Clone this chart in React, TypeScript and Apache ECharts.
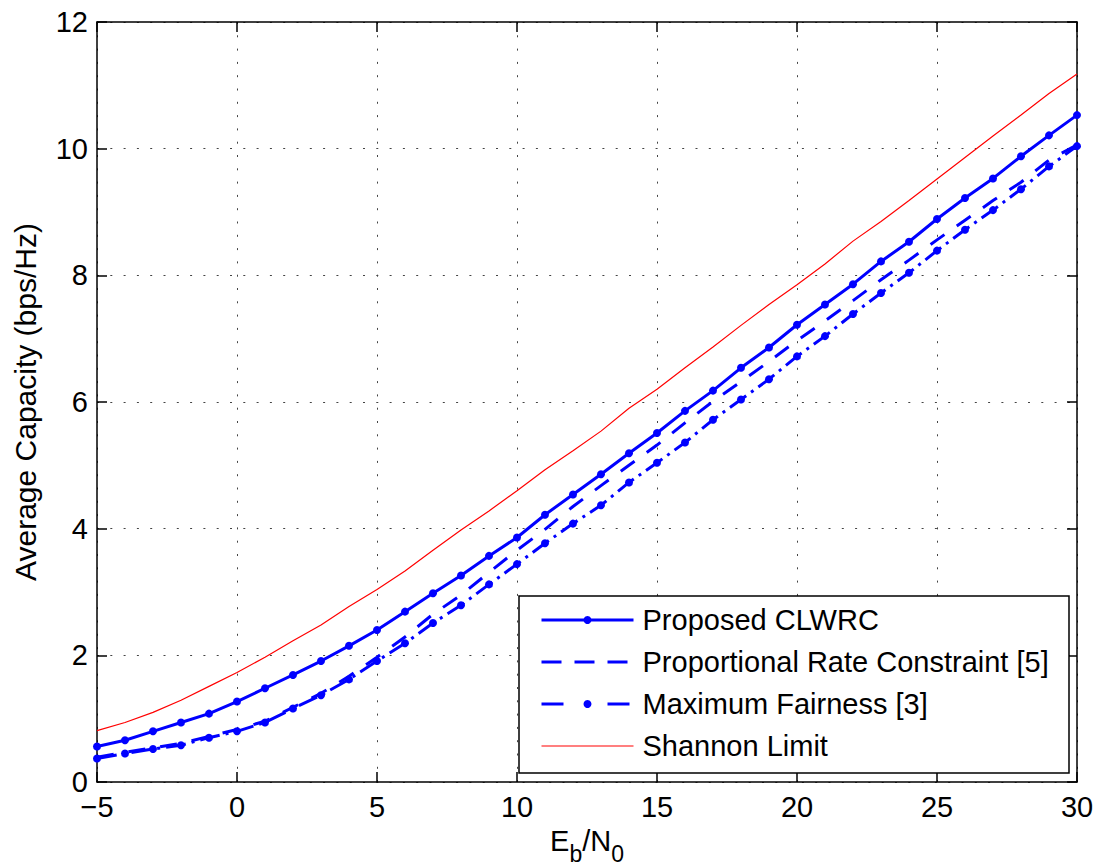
import React, { useEffect, useRef } from "react";
import * as echarts from "echarts";

const ebn0 = [-5, -4, -3, -2, -1, 0, 1, 2, 3, 4, 5, 6, 7, 8, 9, 10, 11, 12, 13, 14, 15, 16, 17, 18, 19, 20, 21, 22, 23, 24, 25, 26, 27, 28, 29, 30];

const proposedCLWRC = [0.56, 0.66, 0.8, 0.94, 1.08, 1.27, 1.48, 1.69, 1.91, 2.15, 2.4, 2.69, 2.98, 3.26, 3.57, 3.86, 4.22, 4.54, 4.86, 5.19, 5.51, 5.86, 6.18, 6.54, 6.86, 7.22, 7.54, 7.86, 8.22, 8.53, 8.89, 9.22, 9.53, 9.88, 10.21, 10.53];

const proportionalRate = [0.39, 0.47, 0.54, 0.61, 0.72, 0.83, 0.96, 1.18, 1.4, 1.67, 1.97, 2.29, 2.65, 2.95, 3.31, 3.66, 3.99, 4.35, 4.68, 5.0, 5.32, 5.67, 6.01, 6.32, 6.64, 6.97, 7.28, 7.6, 7.93, 8.24, 8.56, 8.87, 9.18, 9.47, 9.82, 10.06];

const maxFairness = [0.37, 0.45, 0.52, 0.58, 0.7, 0.8, 0.94, 1.16, 1.37, 1.62, 1.91, 2.19, 2.51, 2.79, 3.12, 3.44, 3.77, 4.08, 4.37, 4.73, 5.04, 5.36, 5.72, 6.04, 6.36, 6.72, 7.04, 7.39, 7.72, 8.04, 8.39, 8.72, 9.03, 9.36, 9.72, 10.04];

const shannonLimit = [0.81, 0.94, 1.1, 1.29, 1.51, 1.73, 1.97, 2.23, 2.48, 2.77, 3.04, 3.33, 3.66, 3.98, 4.28, 4.6, 4.93, 5.23, 5.54, 5.9, 6.2, 6.54, 6.87, 7.21, 7.54, 7.85, 8.18, 8.54, 8.85, 9.18, 9.52, 9.86, 10.2, 10.53, 10.87, 11.18];

const seriesNames = [
  "Proposed CLWRC",
  "Proportional Rate Constraint [5]",
  "Maximum Fairness [3]",
  "Shannon Limit",
];

const FONT = "'Liberation Sans', Arial, Helvetica, sans-serif";
const FS = 29;

function pairs(vals: number[]) {
  return ebn0.map((x, i) => [x, vals[i]]);
}

export default function App() {
  const ref = useRef<HTMLDivElement>(null);
  useEffect(() => {
    if (!ref.current) return;
    const chart = echarts.init(ref.current, null, { renderer: "svg" });
    const axisLine = { show: true, onZero: false, lineStyle: { color: "#000", width: 1.5 } };
    const axisTick = { show: true, inside: true, length: 10, lineStyle: { color: "#000", width: 1.5 } };
    const splitLine = { show: true, lineStyle: { color: "#444", width: 1, type: [2, 11.3] } };
    const blue = "#0000ff";
    const red = "#ff0000";
    chart.setOption({
      animation: false,
      textStyle: { fontFamily: FONT },
      grid: { left: 97, right: 20, top: 22, bottom: 84, containLabel: false, outerBoundsMode: "none" },
      xAxis: [
        {
          type: "value",
          min: -5,
          max: 30,
          interval: 5,
          position: "bottom",
          axisLine,
          axisTick,
          splitLine,
          axisLabel: {
            color: "#000",
            fontSize: FS,
            fontFamily: FONT,
            margin: 14,
            lineHeight: 22,
            formatter: (v: number) => String(v).replace("-", "\u2212"),
          },
          name: "{n|E}{s|b}{n|/N}{s|0}",
          nameLocation: "middle",
          nameGap: 40,
          nameTextStyle: {
            color: "#000",
            fontFamily: FONT,
            rich: {
              n: { fontSize: FS, fontFamily: FONT, color: "#000", verticalAlign: "top", lineHeight: 30 },
              s: { fontSize: 23, fontFamily: FONT, color: "#000", verticalAlign: "top", lineHeight: 23, padding: [16, 0, 0, 0] },
            },
          },
        },
        {
          type: "value",
          min: -5,
          max: 30,
          interval: 5,
          position: "top",
          axisLine,
          axisTick,
          axisLabel: { show: false },
          splitLine: { show: false },
        },
      ],
      yAxis: [
        {
          type: "value",
          min: 0,
          max: 12,
          interval: 2,
          position: "left",
          axisLine,
          axisTick,
          splitLine,
          axisLabel: { color: "#000", fontSize: FS, fontFamily: FONT, margin: 9, lineHeight: 22 },
          name: "Average Capacity (bps/Hz)",
          nameLocation: "middle",
          nameGap: 57,
          nameTextStyle: { color: "#000", fontSize: 30, fontFamily: FONT },
        },
        {
          type: "value",
          min: 0,
          max: 12,
          interval: 2,
          position: "right",
          axisLine,
          axisTick,
          axisLabel: { show: false },
          splitLine: { show: false },
        },
      ],
      legend: {
        orient: "vertical",
        left: 540,
        top: 605,
        itemWidth: 92,
        itemHeight: 10,
        itemGap: 12,
        padding: 0,
        selectedMode: false,
        data: [
          { name: seriesNames[0], lineStyle: { color: blue, width: 3, type: "solid" }, itemStyle: { color: blue } },
          { name: seriesNames[1], lineStyle: { color: blue, width: 3, type: [20, 13] }, itemStyle: { opacity: 0 } },
          { name: seriesNames[2], lineStyle: { color: blue, width: 3, type: [22, 44] }, itemStyle: { color: blue } },
          { name: seriesNames[3], lineStyle: { color: red, width: 1.2, type: "solid" }, itemStyle: { opacity: 0 } },
        ],
        textStyle: { fontSize: FS, fontFamily: FONT, color: "#000", lineHeight: 30, padding: [0, 0, 0, 4] },
        z: 5,
      },
      graphic: {
        elements: [
          {
            type: "rect",
            z: 4,
            shape: { x: 519, y: 596, width: 550, height: 177 },
            style: { fill: "#fff", stroke: "#000", lineWidth: 1.5 },
          },
        ],
      },
      series: [
        {
          name: seriesNames[0],
          type: "line",
          data: pairs(proposedCLWRC),
          symbol: "circle",
          symbolSize: 8,
          itemStyle: { color: blue },
          lineStyle: { color: blue, width: 3 },
          z: 3,
        },
        {
          name: seriesNames[1],
          type: "line",
          data: pairs(proportionalRate),
          symbol: "none",
          itemStyle: { color: blue },
          lineStyle: { color: blue, width: 3, type: [17, 15] },
          z: 3,
        },
        {
          name: seriesNames[2],
          type: "line",
          data: pairs(maxFairness),
          symbol: "circle",
          symbolSize: 8,
          itemStyle: { color: blue },
          lineStyle: { color: blue, width: 3, type: [20, 6, 3, 6] },
          z: 3,
        },
        {
          name: seriesNames[3],
          type: "line",
          data: pairs(shannonLimit),
          symbol: "none",
          itemStyle: { color: red },
          lineStyle: { color: red, width: 1.2 },
          z: 3,
        },
      ],
    });
    return () => chart.dispose();
  }, []);
  return (
    <div
      ref={ref}
      style={{ position: "fixed", left: 0, top: 0, width: 1097, height: 866, background: "#fff" }}
    />
  );
}
